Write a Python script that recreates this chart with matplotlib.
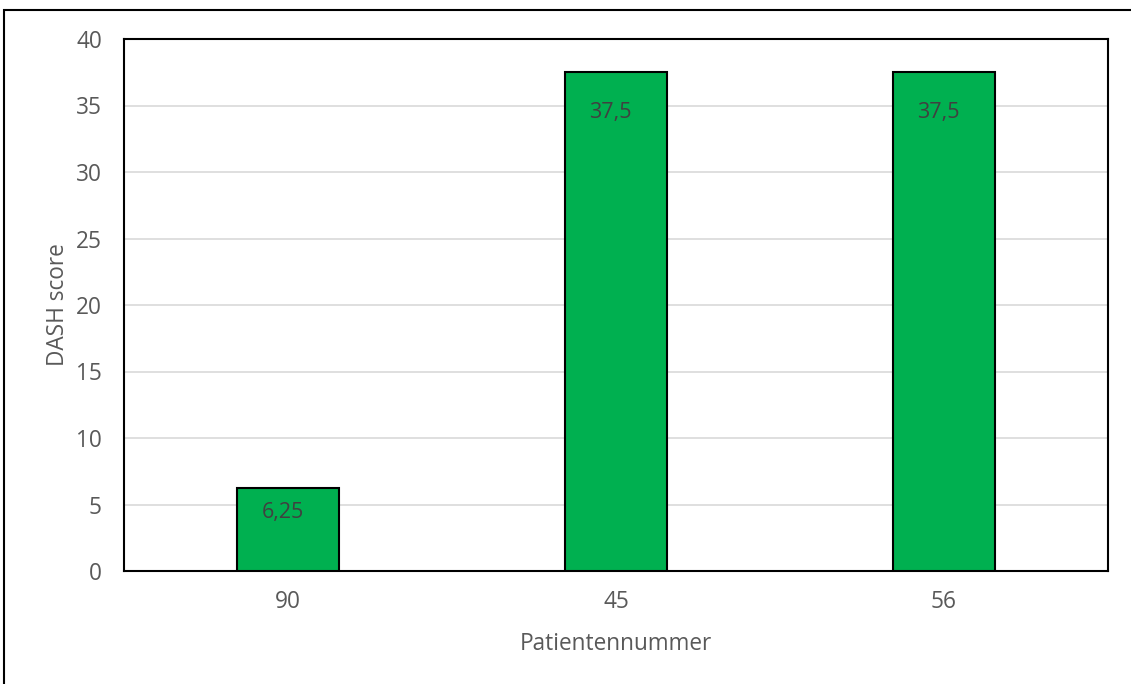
import matplotlib
matplotlib.use("Agg")
import matplotlib.pyplot as plt
from matplotlib.patches import Rectangle

patients = ["90", "45", "56"]
dash_scores = [6.25, 37.5, 37.5]
y_ticks = [0, 5, 10, 15, 20, 25, 30, 35, 40]

# label drop below each bar top, in points
label_drop = [18, 29, 29]

plt.rcParams["font.family"] = ["Open Sans", "DejaVu Sans"]
FS = 16.3

fig = plt.figure(figsize=(11.31, 6.84), dpi=100)
W, H = 1131, 684
ax = fig.add_axes([124 / W, 1 - 571 / H, (1108 - 124) / W, (571 - 39) / H])

# outer chart frame
fig.patches.append(Rectangle((4 / W, -0.01), 1.02, 1 - 10 / H + 0.01,
                             transform=fig.transFigure, fill=False,
                             edgecolor="black", linewidth=1.5))

x = range(len(patients))
bars = ax.bar(x, dash_scores, width=0.31, color="#00B050",
              edgecolor="black", linewidth=1.5, zorder=3)

for b, v, d in zip(bars, dash_scores, label_drop):
    label = f"{v:g}".replace(".", ",")
    ax.annotate(label, (b.get_x() + b.get_width() / 2, v),
                xytext=(-4, -d), textcoords="offset points",
                ha="center", va="center", fontsize=FS - 0.8, color="#404040",
                zorder=4)

ax.set_xlim(-0.5, 2.5)
ax.set_ylim(0, 40)
ax.set_yticks(y_ticks)
ax.set_xticks(list(x))
ax.set_xticklabels(patients)
ax.yaxis.grid(True, color="#D9D9D9", linewidth=1.2, zorder=0)
ax.set_axisbelow(True)
for s in ax.spines.values():
    s.set_color("black")
    s.set_linewidth(1.5)
ax.tick_params(axis="y", length=0, labelsize=FS, labelcolor="#595959", pad=16)
ax.tick_params(axis="x", length=0, labelsize=FS, labelcolor="#595959", pad=14)
ax.set_xlabel("Patientennummer", fontsize=FS, color="#595959", labelpad=13)
ax.set_ylabel("DASH score", fontsize=FS, color="#595959", labelpad=4)

fig.savefig("out.png", dpi=100)
